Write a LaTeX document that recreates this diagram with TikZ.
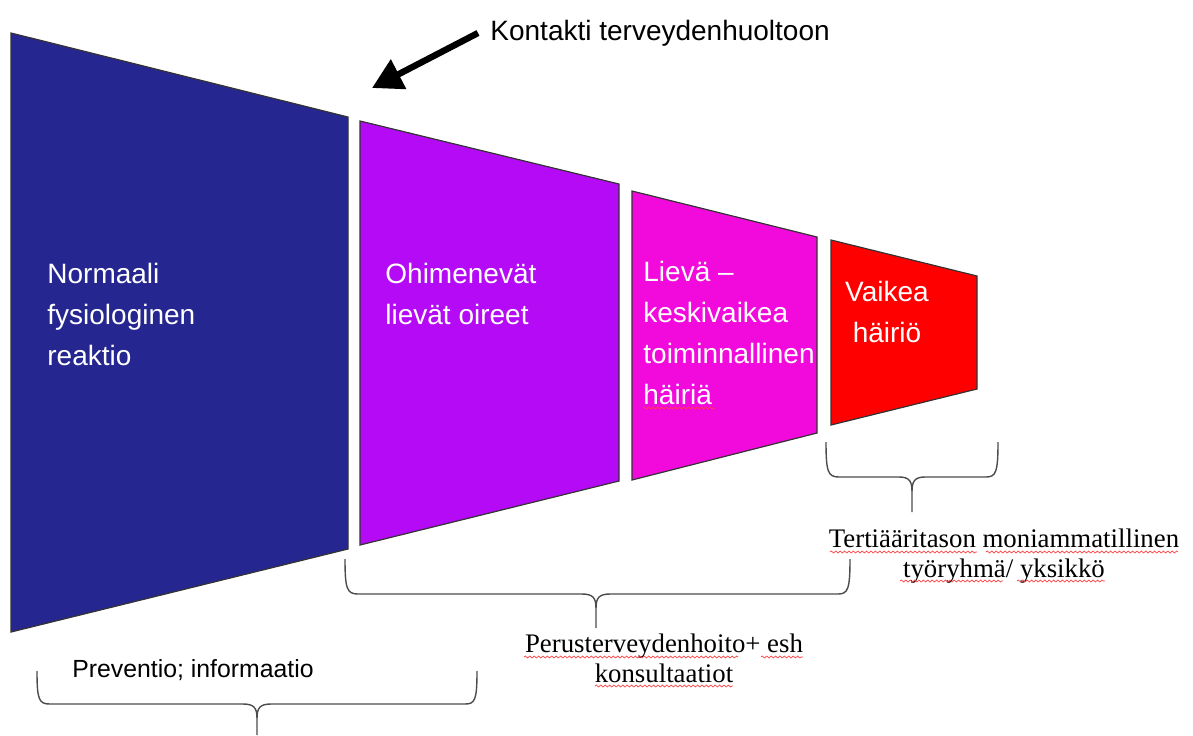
\documentclass[tikz,border=0pt]{standalone}
\usepackage{fontspec}
\setmainfont{Liberation Serif}
\newfontfamily\arial{Liberation Sans}
\usetikzlibrary{arrows.meta,decorations.pathmorphing}
\definecolor{navyb}{RGB}{38,38,145}
\definecolor{violetb}{RGB}{180,10,245}
\definecolor{magb}{RGB}{242,10,220}
\definecolor{redb}{RGB}{255,0,0}
\tikzset{
  stage/.style={draw=black!80, line width=0.6pt},
  intext/.style={text=white, font=\arial\fontsize{14}{20.5}\selectfont, inner sep=0pt},
  brace/.style={draw=black!70, line width=0.7pt},
  serlbl/.style={font=\fontsize{13.4}{14.8}\selectfont, align=center, inner sep=0pt},
  squiggle/.style={draw=red!75, line width=0.35pt, decorate,
    decoration={snake, segment length=2.2pt, amplitude=0.5pt}},
}
\begin{document}
\begin{tikzpicture}[x=0.5pt, y=-0.5pt]
\useasboundingbox (0,0) rectangle (1193,735);
% stages
\path[stage, fill=navyb]   (11,33)  -- (348,117) -- (348,549) -- (11,632) -- cycle;
\path[stage, fill=violetb] (360,121) -- (619,184) -- (619,481) -- (360,545) -- cycle;
\path[stage, fill=magb]    (632,191) -- (817,237) -- (817,433) -- (632,480) -- cycle;
\path[stage, fill=redb]    (831,240) -- (977,276) -- (977,389) -- (831,425) -- cycle;
% texts in stages (anchor = baseline of last line)
\node[intext, anchor=base west, align=left] (normaali) at (47,365)
  {Normaali\\fysiologinen\\reaktio};
\node[intext, anchor=base west, align=left] (ohimenevat) at (385,324)
  {Ohimenevät\\lievät oireet};
\node[intext, anchor=base west, align=left] (lieva) at (643,404)
  {Lievä –\\keskivaikea\\toiminnallinen\\häiriä};
\node[intext, anchor=base, align=center] (vaikea) at (887,342)
  {Vaikea\\häiriö};
% contact arrow
\node[font=\arial\fontsize{14}{17}\selectfont, anchor=base west, inner sep=0pt] (kontakti) at (490,40)
  {Kontakti terveydenhuoltoon};
\coordinate (arrstart) at (478,33);
\coordinate (arrtip) at (372,88);
\draw[line width=3.2pt, -{Triangle[length=15pt,width=16pt]}] (arrstart) -- (arrtip);
% braces
\draw[brace] (37,671) .. controls (37,700) and (39,704) .. (50,704) -- (243,704)
  .. controls (254,704) and (257,708) .. (257,718) -- (257,735);
\draw[brace] (257,718) .. controls (257,708) and (260,704) .. (271,704) -- (465,704)
  .. controls (475,704) and (477,700) .. (477,671);
\draw[brace] (345,559) .. controls (345,589) and (347,594) .. (358,594) -- (582,594)
  .. controls (593,594) and (596,598) .. (596,608) -- (596,628);
\draw[brace] (596,608) .. controls (596,598) and (599,594) .. (610,594) -- (838,594)
  .. controls (848,594) and (850,589) .. (850,559);
\draw[brace] (826,442) .. controls (826,472) and (828,477) .. (839,477) -- (899,477)
  .. controls (909,477) and (912,481) .. (912,491) -- (912,512);
\draw[brace] (912,491) .. controls (912,481) and (915,477) .. (925,477) -- (986,477)
  .. controls (996,477) and (998,472) .. (998,442);
% brace labels
\node[font=\arial\fontsize{12.4}{15}\selectfont, anchor=base west, inner sep=0pt] (preventio) at (72,677)
  {Preventio; informaatio};
\node[serlbl, anchor=base] (perus) at (664,682)
  {Perusterveydenhoito+ esh\\konsultaatiot};
\node[serlbl, anchor=base] (tert) at (1004,577)
  {Tertiääritason moniammatillinen\\työryhmä/ yksikkö};
% spell-check underlines
\path[squiggle] (643,408) -- (715,408);
\path[squiggle] (524,657) -- (738,657);
\path[squiggle] (761,657) -- (803,657);
\path[squiggle] (595,686) -- (733,686);
\path[squiggle] (830,552) -- (977,552);
\path[squiggle] (986,552) -- (1178,552);
\path[squiggle] (900,581) -- (1003,581);
\path[squiggle] (1017,581) -- (1105,581);
\end{tikzpicture}
\end{document}
